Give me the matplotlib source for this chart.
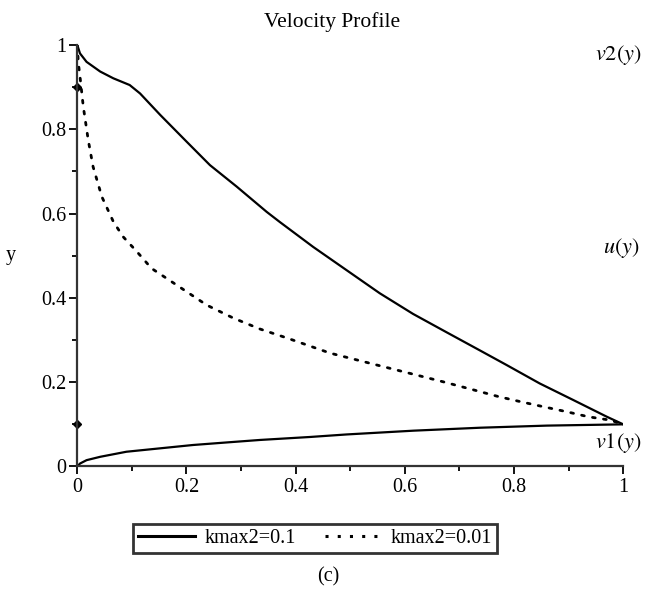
import matplotlib.pyplot as plt
from matplotlib.lines import Line2D

plt.rcParams['font.family'] = 'Liberation Serif'
plt.rcParams['mathtext.fontset'] = 'stix'

# kmax2=0.1, upper branch u(y)
u1_x = [0.0, 0.005, 0.017, 0.042, 0.066, 0.096, 0.115, 0.152, 0.200, 0.243, 0.292,
        0.347, 0.371, 0.432, 0.493, 0.554, 0.615, 0.677, 0.738, 0.786, 0.847,
        0.908, 0.970, 1.0]
u1_y = [1.0, 0.980, 0.960, 0.937, 0.921, 0.905, 0.885, 0.834, 0.771, 0.715, 0.664,
        0.604, 0.580, 0.521, 0.466, 0.411, 0.362, 0.318, 0.275, 0.241, 0.197,
        0.158, 0.118, 0.1]

# kmax2=0.01, upper branch u(y)
u2_x = [0.0, 0.002, 0.005, 0.011, 0.020, 0.029, 0.045, 0.066, 0.084, 0.109, 0.136,
        0.164, 0.200, 0.237, 0.286, 0.335, 0.386, 0.463, 0.548, 0.670, 0.728,
        0.771, 0.811, 0.853, 0.896, 0.936, 0.976, 1.0]
u2_y = [1.0, 0.957, 0.925, 0.854, 0.775, 0.711, 0.640, 0.581, 0.545, 0.510, 0.470,
        0.446, 0.415, 0.383, 0.352, 0.326, 0.304, 0.269, 0.241, 0.201, 0.181,
        0.166, 0.154, 0.142, 0.130, 0.118, 0.110, 0.1]

# lower branch v1(y)
v1_x = [0.0, 0.005, 0.017, 0.042, 0.090, 0.151, 0.212, 0.273, 0.335, 0.426, 0.493,
        0.616, 0.738, 0.860, 1.0]
v1_y = [0.0, 0.007, 0.015, 0.023, 0.035, 0.043, 0.051, 0.057, 0.063, 0.070, 0.076,
        0.085, 0.092, 0.097, 0.1]

pts_x = [0.0, 0.0]
pts_y = [0.9, 0.1]

ticks = [0, 0.2, 0.4, 0.6, 0.8, 1]
tick_labels = ['0', '0.2', '0.4', '0.6', '0.8', '1']

fig = plt.figure(figsize=(6.45, 5.92), dpi=100)
ax = fig.add_axes([0.1198, 0.212, 0.8465, 0.712])

ax.plot(u1_x, u1_y, color='black', lw=1.6)
ax.plot(v1_x, v1_y, color='black', lw=1.6)
ax.plot(u2_x, u2_y, color='black', lw=2.0, linestyle=(0, (1, 3)),
        dash_capstyle='round')
ax.plot(pts_x, pts_y, 'D', color='black', ms=4, clip_on=False)

ax.set_xlim(0, 1)
ax.set_ylim(0, 1)
for s in ['top', 'right']:
    ax.spines[s].set_visible(False)
for s in ['left', 'bottom']:
    ax.spines[s].set_linewidth(1.6)
    ax.spines[s].set_color('#333333')

ax.set_xticks(ticks)
ax.set_xticklabels(tick_labels)
ax.set_yticks(ticks)
ax.set_yticklabels(tick_labels)
ax.set_xticks([0.1, 0.3, 0.5, 0.7, 0.9], minor=True)
ax.set_yticks([0.1, 0.3, 0.5, 0.7, 0.9], minor=True)
ax.tick_params(which='major', length=6, width=1.3, labelsize=14.5, pad=2)
ax.tick_params(which='minor', length=3.5, width=1.3)

fig.text(0.515, 0.963, 'Velocity Profile', fontsize=15.5, ha='center', va='center')
ax.set_ylabel('y', fontsize=14.5, rotation=0, labelpad=22, va='center')

ax.text(0.948, 0.976, r'$v2(y)$', fontsize=16, ha='left', va='center', clip_on=False)
ax.text(0.963, 0.518, r'$u(y)$', fontsize=16, ha='left', va='center', clip_on=False)
ax.text(0.948, 0.055, r'$v1(y)$', fontsize=16, ha='left', va='center', clip_on=False)

handles = [Line2D([], [], color='black', lw=2.2),
           Line2D([], [], color='black', lw=2.2, linestyle=(0, (1, 3)))]
leg = fig.legend(handles, ['kmax2=0.1', 'kmax2=0.01'], loc='center',
                 bbox_to_anchor=(0.489, 0.091), ncol=2, fontsize=14.5,
                 frameon=True, fancybox=False, edgecolor='black',
                 handlelength=2.8, columnspacing=1.4, borderpad=0.25,
                 handletextpad=0.5)
leg.get_frame().set_linewidth(2.0)

fig.text(0.509, 0.025, '(c)', fontsize=14.5, ha='center', va='center')

fig.savefig('out.png', dpi=100)
